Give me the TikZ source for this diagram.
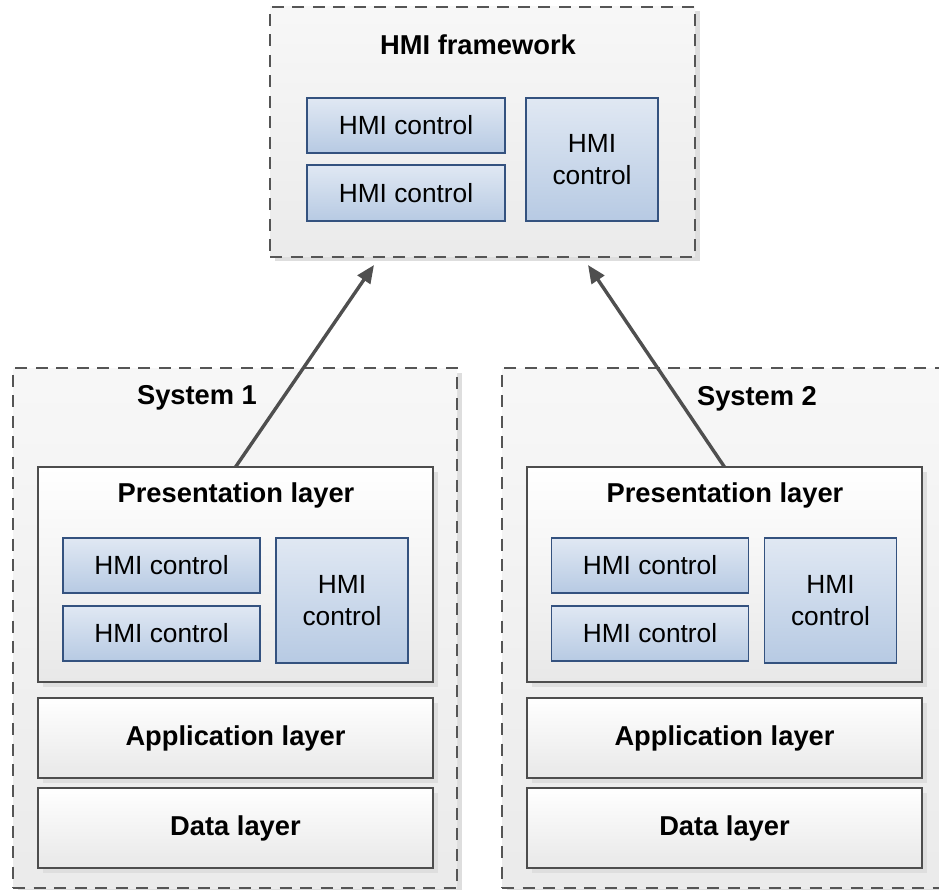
\documentclass[tikz,border=0pt]{standalone}
\usepackage{fontspec}
\setmainfont{Liberation Sans}
\usetikzlibrary{arrows.meta,shadows}
\definecolor{dashc}{HTML}{555555}
\definecolor{layerc}{HTML}{4D4D4D}
\definecolor{ctrlb}{HTML}{34527F}
\definecolor{ctrltop}{HTML}{E0E8F3}
\definecolor{ctrlbot}{HTML}{B7CAE3}
\definecolor{arrc}{HTML}{4F4F4F}
\tikzset{
  shd/.style={drop shadow={shadow xshift=4.5pt, shadow yshift=-4.5pt, fill=black!13, opacity=1}},
  container/.style={rectangle, inner sep=0pt, outer sep=0pt, draw=dashc, line width=2.1pt,
    dash pattern=on 12pt off 8.5pt, top color=white!97!black, bottom color=white!92!black, shd},
  layerbox/.style={rectangle, inner sep=0pt, outer sep=0pt, draw=layerc, line width=2.2pt,
    top color=white, bottom color=white!91!black, shd, font=\fontsize{27.3}{31}\selectfont\bfseries},
  ctrl/.style={rectangle, inner sep=0pt, outer sep=0pt, draw=ctrlb, line width=1.7pt,
    top color=ctrltop, bottom color=ctrlbot, align=center,
    font=\fontsize{26.3}{32}\selectfont},
  ttl/.style={inner sep=0pt, font=\fontsize{27.3}{31}\selectfont\bfseries},
  conn/.style={draw=arrc, line width=3.4pt, -{Triangle[length=18pt,width=15pt]}}
}
\begin{document}
\begin{tikzpicture}[x=1pt, y=-1pt]
\path[use as bounding box, clip] (0,0) rectangle (939,890);
% HMI framework
\node[container, minimum width=425pt, minimum height=250pt] (fw) at (482.5,132) {};
\node[ttl] (fwt) at (478,45) {HMI framework};
\node[ctrl, minimum width=198pt, minimum height=55pt] (fc1) at (406,125.5) {HMI control};
\node[ctrl, minimum width=198pt, minimum height=56pt] (fc2) at (406,193) {HMI control};
\node[ctrl, minimum width=132pt, minimum height=123pt] (fc3) at (592,159.5) {HMI\\control};
% System 1
\node[container, minimum width=444pt, minimum height=520pt] (s1) at (235,628) {};
\node[ttl] (s1t) at (197,398) {System 1};
\node[layerbox, minimum width=395pt, minimum height=215pt] (p1) at (235.5,574.5) {};
\node[ttl] (p1t) at (236,495) {Presentation layer};
\node[ctrl, minimum width=197pt, minimum height=55pt] (a1) at (161.5,565.5) {HMI control};
\node[ctrl, minimum width=197pt, minimum height=55pt] (b1) at (161.5,633.5) {HMI control};
\node[ctrl, minimum width=132pt, minimum height=125pt] (c1) at (342,600.5) {HMI\\control};
\node[layerbox, minimum width=395pt, minimum height=80pt] (ap1) at (235.5,738) {Application layer};
\node[layerbox, minimum width=395pt, minimum height=80pt] (d1) at (235.5,828) {Data layer};
% System 2
\node[container, minimum width=444pt, minimum height=520pt] (s2) at (724,628) {};
\node[ttl] (s2t) at (757,399) {System 2};
\node[layerbox, minimum width=395pt, minimum height=215pt] (p2) at (724.5,574.5) {};
\node[ttl] (p2t) at (725,495) {Presentation layer};
\node[ctrl, minimum width=197pt, minimum height=55pt] (a2) at (650,565.5) {HMI control};
\node[ctrl, minimum width=197pt, minimum height=55pt] (b2) at (650,633.5) {HMI control};
\node[ctrl, minimum width=132pt, minimum height=125pt] (c2) at (830.5,600.5) {HMI\\control};
\node[layerbox, minimum width=395pt, minimum height=80pt] (ap2) at (724.5,738) {Application layer};
\node[layerbox, minimum width=395pt, minimum height=80pt] (d2) at (724.5,828) {Data layer};
% arrows
\coordinate (t1) at (374,265);
\coordinate (t2) at (588,265);
\draw[conn] (p1.north) -- (t1);
\draw[conn] (p2.north) -- (t2);
\end{tikzpicture}
\end{document}
